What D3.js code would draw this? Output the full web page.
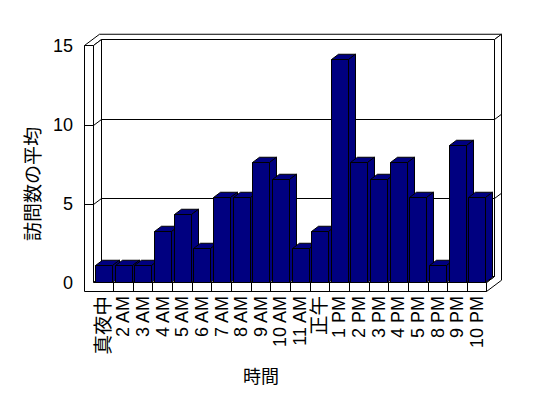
<!DOCTYPE html>
<html>
<head>
<meta charset="utf-8">
<script src="https://cdnjs.cloudflare.com/ajax/libs/d3/7.8.5/d3.min.js"></script>
<style>
	html, body { margin: 0; padding: 0; background: #fff; }
	text { font-family: "Liberation Sans", "Noto Sans CJK JP", sans-serif; fill: #000; }
</style>
</head>
<body>
<svg id="chart"></svg>
<script>
var categorias = ['真夜中', '2 AM', '3 AM', '4 AM', '5 AM', '6 AM', '7 AM', '8 AM', '9 AM', '10 AM',
	'11 AM', '正午', '1 PM', '2 PM', '3 PM', '4 PM', '5 PM', '8 PM', '9 PM', '10 PM'];
var valores = [1.09, 1.09, 1.09, 3.26, 4.35, 2.17, 5.43, 5.43, 7.61, 6.52,
	2.17, 3.26, 14.13, 7.61, 6.52, 7.61, 5.43, 1.09, 8.7, 5.43];
var ticksY = [0, 5, 10, 15];
var tituloX = '時間';
var tituloY = '訪問数の平均';

var width = 548, height = 398;
var svg = d3.select('#chart').attr('width', width).attr('height', height);

// caja 3d
var x0 = 93.5, x1 = 486.5;
var muro = 9;          // grosor muro izquierdo
var suelo = 9;         // grosor del suelo
var fx = 8, fy = 6;    // profundidad hasta el muro del fondo
var gx = 7, gy = 5.25; // grosor muro del fondo
var bx = 7, by = 5.25; // profundidad de las barras

var x = d3.scaleBand().domain(categorias).range([x0, x1]).padding(0);
var y = d3.scaleLinear().domain([0, 15]).range([282.5, 45.5]);
var y0 = y(0), yTop = y(15);

function poly(pts, fill) {
	svg.append('polygon')
		.attr('points', pts.map(function(p) { return p.join(','); }).join(' '))
		.attr('fill', fill)
		.attr('stroke', '#000')
		.attr('stroke-width', 1)
		.attr('stroke-linejoin', 'miter');
}

function linea(a, b) {
	svg.append('line')
		.attr('x1', a[0]).attr('y1', a[1])
		.attr('x2', b[0]).attr('y2', b[1])
		.attr('stroke', '#000')
		.attr('stroke-width', 1);
}

// texto japones un poco mas grande, como en el original
function tamano(t) {
	return /[^\x00-\x7F]/.test(t) ? '19.5px' : '18px';
}

var xl = x0 - muro;
var xr = x1;

// techo de los muros
poly([[xl, yTop], [x0, yTop], [x0 + fx, yTop - fy], [xr + fx, yTop - fy],
	[xr + fx + gx, yTop - fy - gy], [xl + fx + gx, yTop - fy - gy]], '#fff');
// cara interior muro izquierdo
poly([[x0, yTop], [x0 + fx, yTop - fy], [x0 + fx, y0 - fy], [x0, y0]], '#fff');
// muro del fondo
poly([[x0 + fx, yTop - fy], [xr + fx, yTop - fy], [xr + fx, y0 - fy], [x0 + fx, y0 - fy]], '#fff');
// lado derecho (fondo + suelo)
poly([[xr + fx, yTop - fy], [xr + fx + gx, yTop - fy - gy], [xr + fx + gx, y0 + suelo - fy - gy],
	[xr, y0 + suelo], [xr, y0], [xr + fx, y0 - fy]], '#fff');
// suelo (cara superior)
poly([[x0, y0], [xr, y0], [xr + fx, y0 - fy], [x0 + fx, y0 - fy]], '#fff');
// frente: muro izquierdo + suelo
poly([[xl, yTop], [x0, yTop], [x0, y0], [xr, y0], [xr, y0 + suelo], [xl, y0 + suelo]], '#fff');

// lineas de division
ticksY.filter(function(d) { return d > 0 && d < 15; }).forEach(function(d) {
	var yy = Math.round(y(d)) + 0.5;
	linea([xl, yy], [x0, yy]);
	linea([x0, yy], [x0 + fx, yy - fy]);
	linea([x0 + fx, yy - fy], [xr + fx, yy - fy]);
	linea([xr + fx, yy - fy], [xr + fx + gx, yy - fy - gy]);
});

// marcas del eje x en el frente del suelo
categorias.slice(1).forEach(function(c) {
	var xx = Math.round(x(c)) + 0.5;
	linea([xx, y0], [xx, y0 + suelo]);
});

// barras
var ancho = 16.5;
categorias.forEach(function(c, i) {
	var left = Math.round(x(c) + 1.5) + 0.5;
	var right = left + Math.round(ancho);
	var top = Math.round(y(valores[i])) + 0.5;
	poly([[left, top], [right, top], [right + bx, top - by], [left + bx, top - by]], '#000080');
	poly([[right, top], [right + bx, top - by], [right + bx, y0 - by], [right, y0]], '#000080');
	poly([[left, top], [right, top], [right, y0], [left, y0]], '#000080');
});

// etiquetas eje y
svg.append('g')
	.selectAll('text')
	.data(ticksY)
	.enter().append('text')
	.attr('x', 73)
	.attr('y', function(d) { return y(d); })
	.attr('dy', '0.35em')
	.attr('text-anchor', 'end')
	.style('font-size', '18px')
	.text(function(d) { return d; });

// etiquetas eje x
svg.append('g')
	.selectAll('text')
	.data(categorias)
	.enter().append('text')
	.attr('transform', function(d) { return 'translate(' + (x(d) + x.bandwidth() / 2) + ',' + 296 + ') rotate(-90)'; })
	.attr('text-anchor', 'end')
	.attr('dy', '0.35em')
	.style('font-size', function(d) { return tamano(d); })
	.text(function(d) { return d; });

// titulos
svg.append('text')
	.attr('x', 261)
	.attr('y', 383)
	.attr('text-anchor', 'middle')
	.style('font-size', '18px')
	.text(tituloX);

svg.append('text')
	.attr('transform', 'translate(33,' + 184 + ') rotate(-90)')
	.attr('text-anchor', 'middle')
	.attr('dy', '0.35em')
	.style('font-size', '19px')
	.text(tituloY);
</script>
</body>
</html>
